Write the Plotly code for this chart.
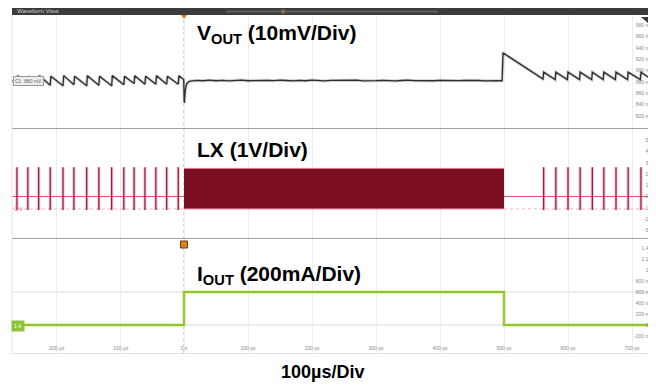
import plotly.graph_objects as go

# page has an 8px body margin; figure is sized to fill the rest of the window
OX, OY = 8, 8
W, H = 656 - OX, 387 - OY

# ---------------- data ----------------
time_ticks = [-200, -100, 0, 100, 200, 300, 400, 500, 600, 700]
time_ticktext = ["-200 µs", "-100 µs", "0 s", "100 µs", "200 µs", "300 µs",
                 "400 µs", "500 µs", "600 µs", "700 µs"]

vout_ticks = [980, 960, 940, 920, 900, 880, 860, 840, 820]
vout_ticktext = ["980 mV", "960 mV", "940 mV", "920 mV", "900 mV",
                 "880 mV", "860 mV", "840 mV", "820 mV"]
lx_ticks = [5, 4, 3, 2, 1, 0, -1, -2, -3]
lx_ticktext = ["5 V", "4 V", "3 V", "2 V", "1 V", "0 V", "-1 V", "-2 V", "-3 V"]
iout_ticks = [1.4, 1.2, 1.0, 0.8, 0.6, 0.4, 0.2, 0.0, -0.2]
iout_ticktext = ["1.4 A", "1.2 A", "1 A", "800 mA", "600 mA", "400 mA",
                 "200 mA", "0 A", "-200 mA"]

# VOUT (mV) - light load ripple, load step at 0 s, release at 500 µs
vout_pre_t = [-269, -261, -260, -244, -243, -227, -226, -209, -208, -189, -188,
              -172, -171, -152, -151, -133, -132, -113, -112, -94, -93, -78, -77,
              -61, -60, -44, -43, -27, -26, -9, -8, -0.5, 0.5, 2, 4, 7]
vout_pre_mv = [883, 874, 891, 875, 890, 874, 891, 874, 890, 873, 891,
               875, 890, 873, 891, 874, 890, 873, 891, 875, 890, 877, 891,
               876, 890, 876, 891, 876, 890, 876, 891, 884, 843, 866, 876, 880]
vout_mid_t = [10, 20, 30, 40, 50, 60, 70, 80, 90, 100, 110, 120, 130, 140, 150,
              160, 170, 180, 190, 200, 210, 220, 230, 240, 250, 260, 270, 280,
              290, 300, 310, 320, 330, 340, 350, 360, 370, 380, 390, 400, 410,
              420, 430, 440, 450, 460, 470, 480, 490]
vout_mid_mv = [881.5, 882.5, 882.0, 883.0, 882.0, 882.8, 881.8, 882.6, 883.2,
               882.0, 882.4, 881.6, 882.8, 882.2, 883.0, 882.4, 881.8, 882.6,
               882.0, 883.2, 882.2, 881.6, 882.6, 882.8, 882.0, 882.4, 883.0,
               881.8, 882.6, 882.2, 882.8, 882.0, 881.6, 882.4, 883.0, 882.2,
               881.8, 882.6, 882.0, 882.8, 882.4, 881.6, 882.2, 882.8, 882.0,
               882.4, 881.8, 882.6, 882.2]
vout_post_t = [497, 498.5, 561, 562, 580, 581, 599, 600, 618, 619, 637, 638,
               655, 656, 674, 675, 693, 694, 713, 714, 727, 728, 738]
vout_post_mv = [882, 931, 885, 897, 884, 897, 884, 897, 884, 897, 884, 897,
                884, 897, 884, 897, 884, 897, 884, 897, 887, 897, 890]

# LX (V) - PFM pulses before / after, continuous switching during load
lx_pulse_pre_t = [-261, -244, -227, -209, -189, -172, -152, -133, -113, -94,
                  -78, -61, -44, -27, -9]
lx_pulse_post_t = [562, 581, 600, 619, 638, 656, 675, 694, 714, 728]
lx_pulse_high = 2.6
lx_pulse_low = -1.2
lx_burst_t = [0, 500]
lx_burst_high = 2.5
lx_burst_low = -1.1
lx_base_pre_t = [-269, 0]
lx_base_post_t = [500, 738]

# IOUT (A)
iout_t = [-269, 0, 0, 500, 500, 738]
iout_a = [0.0, 0.0, 0.6, 0.6, 0.0, 0.0]

# ---------------- layout helpers (reference-pixel -> paper) ----------------
def py(px):
    return 1 - (px - OY) / H

def px_x(px):
    return (px - OX) / W

X0_PX, ZERO_PX, PX_PER_US = 12, 184, 0.64
x_range = [(X0_PX - ZERO_PX) / PX_PER_US, (656 - ZERO_PX) / PX_PER_US]
xdom = [px_x(X0_PX), 1.0]

P1, P2, P3 = (15, 128), (129, 238), (239, 353)
y1_range = [980 - (P1[1] - 25) * 1.758, 980 - (P1[0] - 25) * 1.758]
y2_range = [-(P2[1] - 196.5) / 11.25, -(P2[0] - 196.5) / 11.25]
y3_range = [-(P3[1] - 325) / 55.0, -(P3[0] - 325) / 55.0]

FAM = "Liberation Sans, Arial, sans-serif"
TITLE_FONT = dict(family=FAM, size=21, color="#000")
TICK_FONT = dict(family=FAM, size=5, color="#8a8a8a")

fig = go.Figure()

# VOUT
vt = vout_pre_t + vout_mid_t + vout_post_t
vv = vout_pre_mv + vout_mid_mv + vout_post_mv
fig.add_trace(go.Scatter(x=vt, y=vv, mode="lines", xaxis="x", yaxis="y",
                         line=dict(color="rgba(120,120,120,0.35)", width=3),
                         hoverinfo="skip"))
fig.add_trace(go.Scatter(x=vt, y=vv, mode="lines", xaxis="x", yaxis="y",
                         line=dict(color="#2e2e2e", width=1.3)))

# LX baseline
for seg in (lx_base_pre_t, lx_base_post_t):
    fig.add_trace(go.Scatter(x=seg, y=[lx_burst_low, lx_burst_low], mode="lines",
                             xaxis="x2", yaxis="y2",
                             line=dict(color="rgba(230,120,150,0.55)", width=1, dash="dot")))
    fig.add_trace(go.Scatter(x=seg, y=[0, 0], mode="lines", xaxis="x2", yaxis="y2",
                             line=dict(color="#e0506e", width=1.2)))
# LX pulses
px_list, py_list = [], []
for t in lx_pulse_pre_t + lx_pulse_post_t:
    px_list += [t, t, None]
    py_list += [lx_pulse_low, lx_pulse_high, None]
fig.add_trace(go.Scatter(x=px_list, y=py_list, mode="lines", xaxis="x2", yaxis="y2",
                         line=dict(color="rgba(230,140,165,0.45)", width=3.5)))
fig.add_trace(go.Scatter(x=px_list, y=py_list, mode="lines", xaxis="x2", yaxis="y2",
                         line=dict(color="#8a1430", width=1.2)))
# LX burst
fig.add_trace(go.Scatter(x=lx_burst_t, y=[lx_burst_low, lx_burst_low], mode="lines",
                         xaxis="x2", yaxis="y2", line=dict(color="#e87a96", width=1)))
fig.add_trace(go.Scatter(x=lx_burst_t, y=[lx_burst_high, lx_burst_high], mode="lines",
                         xaxis="x2", yaxis="y2", fill="tonexty",
                         fillcolor="#7c0f22", line=dict(color="#e87a96", width=1)))

# IOUT
fig.add_trace(go.Scatter(x=iout_t, y=iout_a, mode="lines", xaxis="x3", yaxis="y3",
                         line=dict(color="rgba(215,225,90,0.5)", width=4)))
fig.add_trace(go.Scatter(x=iout_t, y=iout_a, mode="lines", xaxis="x3", yaxis="y3",
                         line=dict(color="#8cc43c", width=1.8)))

# trigger markers
fig.add_trace(go.Scatter(x=[0], y=[y1_range[1] - 1], mode="markers", xaxis="x", yaxis="y",
                         marker=dict(symbol="triangle-down", size=7, color="#e07d22"),
                         cliponaxis=False))
fig.add_trace(go.Scatter(x=[0], y=[y3_range[1] - 0.1], mode="markers", xaxis="x3", yaxis="y3",
                         marker=dict(symbol="square", size=7, color="#d9821f",
                                     line=dict(color="#6a3a0a", width=1)),
                         cliponaxis=False))

xcommon = dict(range=x_range, domain=xdom, tickvals=time_ticks, ticktext=time_ticktext,
               showgrid=True, gridcolor="#ededed", gridwidth=1, zeroline=False,
               ticks="", fixedrange=True)
ycommon = dict(side="right", ticklabelposition="inside", ticks="", showgrid=False,
               zeroline=False, tickfont=TICK_FONT)

fig.update_layout(
    width=W, height=H, margin=dict(l=0, r=0, t=0, b=0),
    paper_bgcolor="white", plot_bgcolor="white", showlegend=False,
    xaxis=dict(xcommon, anchor="y", showticklabels=False, showline=True,
               linecolor="#a0a0a0", linewidth=1),
    xaxis2=dict(xcommon, anchor="y2", matches="x", showticklabels=False, showline=True,
                linecolor="#a0a0a0", linewidth=1),
    xaxis3=dict(xcommon, anchor="y3", matches="x", showticklabels=True,
                ticklabelposition="inside", tickfont=TICK_FONT, showline=True,
                linecolor="#e2e2e2", linewidth=1),
    yaxis=dict(ycommon, domain=[py(P1[1]), py(P1[0])], range=y1_range,
               tickvals=vout_ticks, ticktext=vout_ticktext, anchor="x"),
    yaxis2=dict(ycommon, domain=[py(P2[1]), py(P2[0])], range=y2_range,
                tickvals=lx_ticks, ticktext=lx_ticktext, anchor="x2"),
    yaxis3=dict(ycommon, domain=[py(P3[1]), py(P3[0])], range=y3_range,
                tickvals=iout_ticks, ticktext=iout_ticktext, anchor="x3"),
)

shapes = []
# header bar
shapes.append(dict(type="rect", xref="paper", yref="paper", x0=px_x(12), x1=1,
                   y0=py(15), y1=py(8), fillcolor="#3b3b3b", line=dict(width=0), layer="above"))
shapes.append(dict(type="rect", xref="paper", yref="paper", x0=px_x(226), x1=px_x(438),
                   y0=py(12.5), y1=py(10.5), fillcolor="#5c5c5c", line=dict(width=0), layer="above"))
shapes.append(dict(type="rect", xref="paper", yref="paper", x0=px_x(281), x1=px_x(285),
                   y0=py(13.5), y1=py(9.5), fillcolor="#8a6a45", line=dict(width=0), layer="above"))
# left border
shapes.append(dict(type="line", xref="paper", yref="paper", x0=px_x(12), x1=px_x(12),
                   y0=py(353), y1=py(15), line=dict(color="#e4e4e4", width=1)))
# zero-time dotted line
shapes.append(dict(type="line", xref="x", yref="paper", x0=0, x1=0,
                   y0=py(353), y1=py(15), line=dict(color="#b0b0b0", width=1, dash="dot"),
                   layer="below"))
# iout horizontal graticule
for yv in (0.6, 0.0):
    shapes.append(dict(type="line", xref="x3", yref="y3", x0=x_range[0], x1=x_range[1],
                       y0=yv, y1=yv, line=dict(color="#dcdcdc", width=1), layer="below"))
# top-right dark triangle on VOUT panel
shapes.append(dict(type="path", xref="paper", yref="paper",
                   path=f"M {px_x(641)} {py(17)} L {px_x(655)} {py(17)} L {px_x(655)} {py(29)} Z",
                   fillcolor="#3a3a3a", line=dict(width=0)))
# green arrow on IOUT panel right
shapes.append(dict(type="path", xref="paper", yref="paper",
                   path=f"M {px_x(656)} {py(301)} L {px_x(647)} {py(305)} L {px_x(656)} {py(309)} Z",
                   fillcolor="#8cc43c", line=dict(width=0)))
fig.update_layout(shapes=shapes)

ann = []
ann.append(dict(text="Waveform View", xref="paper", yref="paper", x=px_x(15), y=py(11.5),
                xanchor="left", yanchor="middle", showarrow=False,
                font=dict(family=FAM, size=6, color="#cfcfcf")))
ann.append(dict(text="<b>V<sub>OUT</sub> (10mV/Div)</b>", xref="paper", yref="paper",
                x=px_x(195), y=py(18.5), xanchor="left", yanchor="top", showarrow=False,
                font=TITLE_FONT))
ann.append(dict(text="<b>LX (1V/Div)</b>", xref="paper", yref="paper",
                x=px_x(195), y=py(149), xanchor="left", yanchor="middle", showarrow=False,
                font=TITLE_FONT))
ann.append(dict(text="<b>I<sub>OUT</sub> (200mA/Div)</b>", xref="paper", yref="paper",
                x=px_x(195), y=py(260), xanchor="left", yanchor="top", showarrow=False,
                font=TITLE_FONT))
ann.append(dict(text="<b>100µs/Div</b>", xref="paper", yref="paper",
                x=px_x(322), y=py(372), xanchor="center", yanchor="middle", showarrow=False,
                font=dict(family=FAM, size=18, color="#000")))
ann.append(dict(text="C1  880 mV", xref="paper", yref="paper", x=px_x(13), y=py(81),
                xanchor="left", yanchor="middle", showarrow=False,
                font=dict(family=FAM, size=5, color="#666"),
                bgcolor="#eeeeee", bordercolor="#9a9a9a", borderwidth=1, borderpad=1))
ann.append(dict(text="2 V", xref="paper", yref="paper", x=px_x(13), y=py(209),
                xanchor="left", yanchor="middle", showarrow=False,
                font=dict(family=FAM, size=5, color="#e0506e")))
ann.append(dict(text="1 A", xref="paper", yref="paper", x=px_x(11), y=py(326),
                xanchor="left", yanchor="middle", showarrow=False,
                font=dict(family=FAM, size=5, color="#ffffff"),
                bgcolor="#8cc43c", borderpad=2))
fig.update_layout(annotations=ann)

fig.write_html("out.html")
